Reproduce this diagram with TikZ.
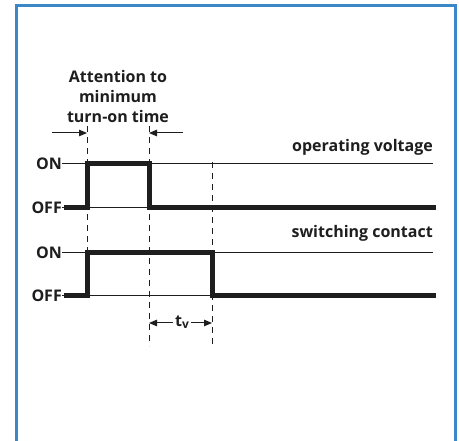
\documentclass[tikz,border=0pt]{standalone}
\usepackage{fontspec}
\setmainfont{Open Sans}
\usetikzlibrary{arrows.meta}
\definecolor{frameblue}{RGB}{60,135,200}
\definecolor{ink}{RGB}{30,30,30}
\begin{document}
\begin{tikzpicture}[x=1pt,y=-1pt,
  lbl/.style={font=\bfseries\fontsize{16}{18}\selectfont, text=ink, inner sep=0pt},
  levelline/.style={line width=1pt, ink},
  sig/.style={line width=5pt, ink, line join=miter},
  guide/.style={line width=1pt, ink, dash pattern=on 6pt off 5pt},
  dim/.style={-{Triangle[length=8pt,width=6.5pt]}, line width=1pt, ink}
]
\useasboundingbox (0,0) rectangle (459,441);
\fill[white] (0,0) rectangle (459,441);
\draw[line width=3pt, frameblue] (16,441) -- (16,6) -- (455,6) -- (455,441);

% title
\node[lbl, align=center, font=\bfseries\fontsize{16}{20}\selectfont] (att) at (118,97) {Attention to\\minimum\\turn-on time};

% guide lines
\coordinate (g1t) at (87,126); \coordinate (g1b) at (87,298);
\coordinate (g2t) at (149,126); \coordinate (g2b) at (149,346);
\coordinate (g3t) at (212,162); \coordinate (g3b) at (212,346);
\draw[guide] (g1t) -- (g1b);
\draw[guide] (g2t) -- (g2b);
\draw[guide] (g3t) -- (g3b);

% top dimension arrows
\coordinate (a1s) at (52,133); \coordinate (a1e) at (87,133);
\coordinate (a2s) at (183,133); \coordinate (a2e) at (149,133);
\draw[dim] (a1s) -- (a1e);
\draw[dim] (a2s) -- (a2e);

% operating voltage
\node[lbl, anchor=east] (opv) at (433,147) {operating voltage};
\node[lbl, anchor=east] (on1) at (62,164) {ON};
\node[lbl, anchor=east] (off1) at (62,208) {OFF};
\coordinate (on1r) at (433,164); \coordinate (off1r) at (433,208);
\draw[levelline] (on1.east) -- (on1r);
\draw[levelline] (off1.east) -- (off1r);
\draw[sig] ([xshift=2pt]off1.east) -- (87,208) -- (87,164) -- (149,164) -- (149,208) -- (436,208);

% switching contact
\node[lbl, anchor=east] (swc) at (433,233) {switching contact};
\node[lbl, anchor=east] (on2) at (62,253) {ON};
\node[lbl, anchor=east] (off2) at (62,296) {OFF};
\coordinate (on2r) at (433,253); \coordinate (off2r) at (433,296);
\draw[levelline] (on2.east) -- (on2r);
\draw[levelline] (off2.east) -- (off2r);
\draw[sig] ([xshift=2pt]off2.east) -- (87,296) -- (87,253) -- (212,253) -- (212,296) -- (436,296);

% tv
\node[lbl, inner sep=2pt] (tv) at (182,322) {t\raisebox{-2pt}{\fontsize{12}{12}\selectfont v}};
\coordinate (tvl) at (149,323); \coordinate (tvr) at (212,323);
\draw[dim] (tv.west |- tvl) -- (tvl);
\draw[dim] (tv.east |- tvr) -- (tvr);
\end{tikzpicture}
\end{document}
